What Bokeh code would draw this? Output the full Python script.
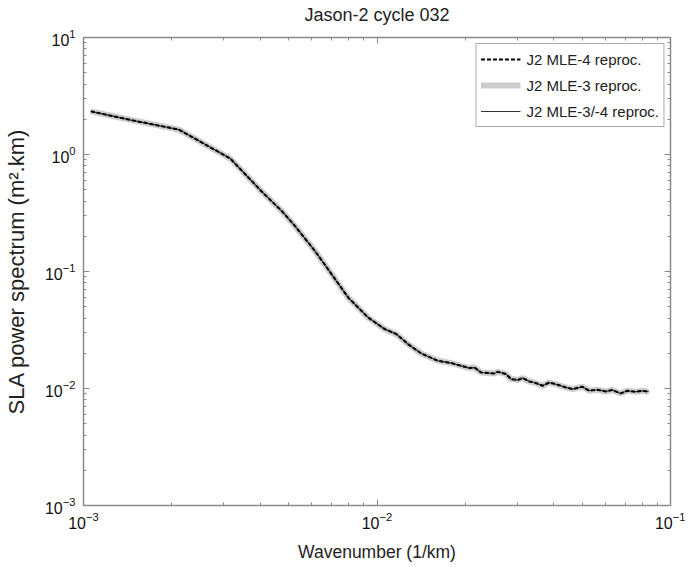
from bokeh.plotting import figure
from bokeh.models import (LogAxis, Legend, LegendItem, ColumnDataSource, FixedTicker,
                          LogTickFormatter, CustomJSTickFormatter, Title)
from bokeh.embed import file_html
from bokeh.resources import INLINE

# Wavenumber (1/km)
wavenumber = [1.059e-3, 1.466e-3, 2.113e-3, 2.602e-3, 3.163e-3, 4.053e-3, 4.739e-3,
              5.258e-3, 6.149e-3, 7.008e-3, 7.983e-3, 9.335e-3, 1.063e-2, 1.165e-2,
              1.276e-2, 1.416e-2, 1.613e-2, 1.791e-2, 1.936e-2, 2.066e-2, 2.148e-2,
              2.263e-2, 2.512e-2, 2.579e-2, 2.752e-2, 2.862e-2, 3.017e-2, 3.137e-2,
              3.303e-2, 3.435e-2, 3.666e-2, 3.861e-2, 4.123e-2, 4.399e-2, 4.636e-2,
              5.013e-2, 5.279e-2, 5.638e-2, 6.015e-2, 6.339e-2, 6.762e-2, 7.125e-2,
              7.604e-2, 8.014e-2, 8.438e-2]

# SLA power spectrum (m^2.km), J2 MLE-4 reprocessed
mle4 = [2.338, 1.960, 1.633, 1.216, 0.9236, 0.4810, 0.3281,
        0.2443, 0.1496, 0.09465, 0.05977, 0.04036, 0.03214, 0.02913,
        0.02393, 0.01990, 0.01725, 0.01649, 0.01563, 0.01494, 0.01512,
        0.01370, 0.01344, 0.01390, 0.01328, 0.01204, 0.01180, 0.01228,
        0.01148, 0.01126, 0.01056, 0.01126, 0.01076, 0.01021, 0.009893,
        0.01035, 0.009568, 0.009757, 0.009436, 0.009700, 0.009074, 0.009568,
        0.009382, 0.009568, 0.009382]

# J2 MLE-3 reprocessed (visually identical)
mle3 = [2.338, 1.960, 1.633, 1.216, 0.9236, 0.4810, 0.3281,
        0.2443, 0.1496, 0.09465, 0.05977, 0.04036, 0.03214, 0.02913,
        0.02393, 0.01990, 0.01725, 0.01649, 0.01563, 0.01494, 0.01512,
        0.01370, 0.01344, 0.01390, 0.01328, 0.01204, 0.01180, 0.01228,
        0.01148, 0.01126, 0.01056, 0.01126, 0.01076, 0.01021, 0.009893,
        0.01035, 0.009568, 0.009757, 0.009436, 0.009700, 0.009074, 0.009568,
        0.009382, 0.009568, 0.009382]

# J2 MLE-3/-4 reprocessed (visually identical)
mle34 = [2.338, 1.960, 1.633, 1.216, 0.9236, 0.4810, 0.3281,
         0.2443, 0.1496, 0.09465, 0.05977, 0.04036, 0.03214, 0.02913,
         0.02393, 0.01990, 0.01725, 0.01649, 0.01563, 0.01494, 0.01512,
         0.01370, 0.01344, 0.01390, 0.01328, 0.01204, 0.01180, 0.01228,
         0.01148, 0.01126, 0.01056, 0.01126, 0.01076, 0.01021, 0.009893,
         0.01035, 0.009568, 0.009757, 0.009436, 0.009700, 0.009074, 0.009568,
         0.009382, 0.009568, 0.009382]

labels = ["J2 MLE-4 reproc.", "J2 MLE-3 reproc.", "J2 MLE-3/-4 reproc."]

# axis decades and minor multipliers
x_decades = [-3, -2, -1]
y_decades = [-3, -2, -1, 0, 1]
minor_mult = [2, 3, 4, 5, 6, 7, 8, 9]

x_major = [10.0 ** e for e in x_decades]
x_minor = [m * 10.0 ** e for e in x_decades[:-1] for m in minor_mult]
y_major = [10.0 ** e for e in y_decades]
y_minor = [m * 10.0 ** e for e in y_decades[:-1] for m in minor_mult]

src = ColumnDataSource(dict(k=wavenumber, mle4=mle4, mle3=mle3, mle34=mle34))

FONT = "Liberation Sans"
AX = "#8a8a8a"

p = figure(width=685, height=567, x_axis_type="log", y_axis_type="log",
           x_range=(1e-3, 1e-1), y_range=(1e-3, 1e1),
           output_backend="svg", toolbar_location=None,
           min_border_left=81, min_border_right=15,
           min_border_top=36, min_border_bottom=62)

p.title.text = "Jason-2 cycle 032"
p.title.align = "center"
p.title.text_font = FONT
p.title.text_font_size = "18px"
p.title.text_font_style = "normal"
p.title.text_color = "#222222"
p.title.standoff = 4

p.grid.visible = False
p.outline_line_color = AX
p.outline_line_width = 1.5

r3 = p.line("k", "mle3", source=src, line_color="#cccccc", line_width=6)
r34 = p.line("k", "mle34", source=src, line_color="#333333", line_width=1.2)
r4 = p.line("k", "mle4", source=src, line_color="black", line_width=2, line_dash="4 2")

p.xaxis.ticker = FixedTicker(ticks=x_major, minor_ticks=x_minor)
p.yaxis.ticker = FixedTicker(ticks=y_major, minor_ticks=y_minor)
p.xaxis.formatter = LogTickFormatter()
p.yaxis.formatter = LogTickFormatter()

for ax in (p.xaxis[0], p.yaxis[0]):
    ax.axis_line_color = AX
    ax.major_tick_line_color = AX
    ax.minor_tick_line_color = AX
    ax.major_tick_in = 6
    ax.major_tick_out = 0
    ax.minor_tick_in = 3
    ax.minor_tick_out = 0
    ax.major_label_text_font = FONT
    ax.major_label_text_font_size = "16px"
    ax.major_label_text_color = "#111111"
    ax.axis_label_text_font = FONT
    ax.axis_label_text_font_style = "normal"
    ax.axis_label_text_color = "#222222"

p.xaxis.axis_label = "Wavenumber (1/km)"
p.xaxis.axis_label_text_font_size = "17.5px"
p.xaxis.major_label_standoff = 6
p.xaxis.axis_label_standoff = 10
p.yaxis.axis_label = "SLA power spectrum (m².km)"
p.yaxis.axis_label_text_font_size = "22px"
p.yaxis.major_label_standoff = 8
p.yaxis.axis_label_standoff = 13

for side, tk in (("above", FixedTicker(ticks=x_major, minor_ticks=x_minor)),
                 ("right", FixedTicker(ticks=y_major, minor_ticks=y_minor))):
    ax = LogAxis(ticker=tk,
                 formatter=CustomJSTickFormatter(code="return ''"),
                 axis_line_color=None,
                 major_tick_line_color=AX, minor_tick_line_color=AX,
                 major_tick_in=6, major_tick_out=0,
                 minor_tick_in=3, minor_tick_out=0,
                 major_label_standoff=0)
    p.add_layout(ax, side)

# blank spacer between frame and title
p.add_layout(Title(text=" ", text_font_size="8px", standoff=0), "above")

legend = Legend(items=[LegendItem(label=labels[0], renderers=[r4]),
                       LegendItem(label=labels[1], renderers=[r3]),
                       LegendItem(label=labels[2], renderers=[r34])],
                location="top_right", margin=6, padding=4, spacing=4,
                label_text_font=FONT, label_text_font_size="15px",
                label_text_color="#222222",
                glyph_width=40, glyph_height=22, label_height=22, label_standoff=6,
                border_line_color="#555555", border_line_width=1,
                background_fill_color="white", background_fill_alpha=1)
p.add_layout(legend)

open("out.html", "w").write(file_html(p, INLINE))
